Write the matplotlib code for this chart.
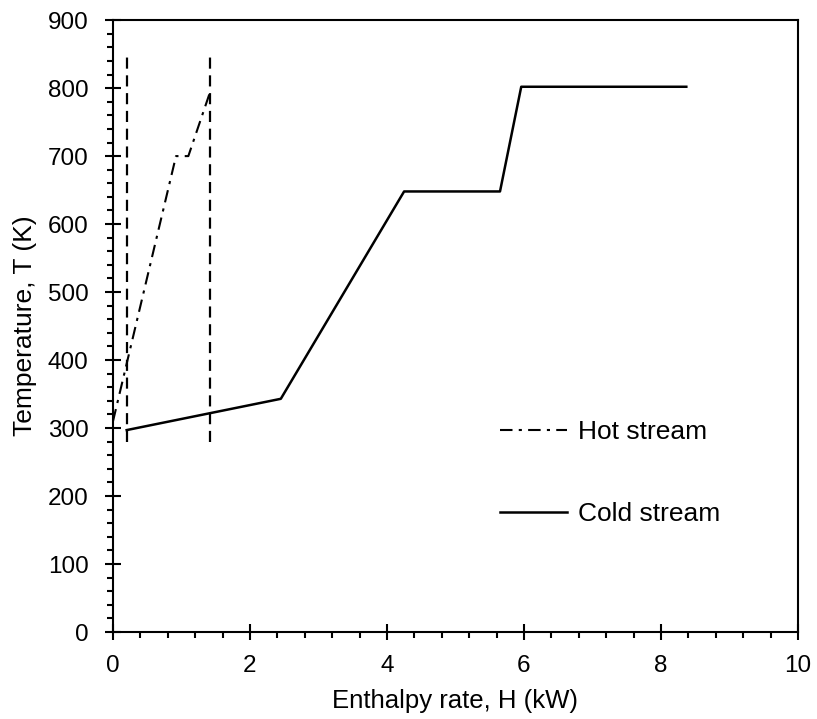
import matplotlib
matplotlib.use('Agg')
import matplotlib.pyplot as plt
from matplotlib.ticker import MultipleLocator

plt.rcParams['font.family'] = ['Liberation Sans', 'DejaVu Sans']

# hot and cold composite curves (H in kW, T in K)
hot_H = [0.0, 0.92, 1.10, 1.42]
hot_T = [310, 700, 700, 795]

cold_H = [0.20, 2.45, 4.25, 5.65, 5.96, 8.37]
cold_T = [297, 343, 648, 648, 802, 802]

# pinch / boundary markers
vline_H = [0.20, 1.42]
vline_T = [280, 850]

fig = plt.figure(figsize=(8.17, 7.19), dpi=100)
ax = fig.add_axes([0.1383, 0.121, 0.8384, 0.851])

for h in vline_H:
    ax.plot([h, h], vline_T, color='black', lw=1.6, dashes=(5, 3))

ax.plot(hot_H, hot_T, color='black', lw=1.5, dashes=(6, 3, 1.5, 3), label='Hot stream')
ax.plot(cold_H, cold_T, color='black', lw=1.8, label='Cold stream')

ax.set_xlim(0, 10)
ax.set_ylim(0, 900)
ax.xaxis.set_major_locator(MultipleLocator(2))
ax.xaxis.set_minor_locator(MultipleLocator(0.4))
ax.yaxis.set_major_locator(MultipleLocator(100))
ax.yaxis.set_minor_locator(MultipleLocator(20))

ax.tick_params(which='major', direction='inout', length=11, width=1.5, labelsize=17.5)
ax.tick_params(axis='x', which='major', pad=11)
ax.tick_params(axis='y', which='major', pad=12)
ax.tick_params(which='minor', direction='out', length=4.5, width=1.5)
for s in ax.spines.values():
    s.set_linewidth(1.5)

ax.set_xlabel('Enthalpy rate, H (kW)', fontsize=18.5, labelpad=8.5)
ax.set_ylabel('Temperature, T (K)', fontsize=19, labelpad=8)

ax.legend(loc='upper left', bbox_to_anchor=(0.531, 0.385), frameon=False, fontsize=19,
          handlelength=2.54, handletextpad=0.38, labelspacing=2.2)

fig.savefig('out.png', dpi=100)
